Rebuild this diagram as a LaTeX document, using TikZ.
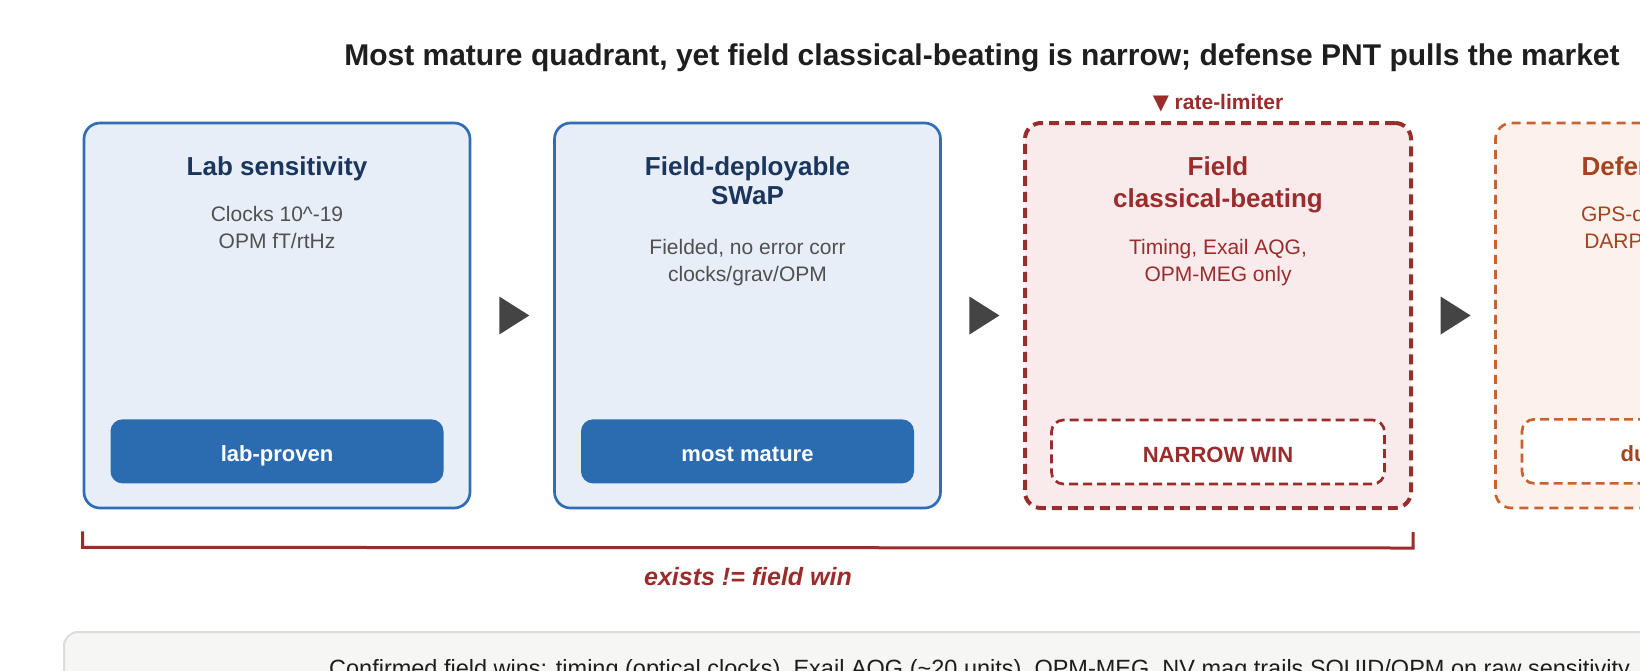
\documentclass[tikz,border=0pt]{standalone}
\usepackage{fontspec}
\setmainfont{Liberation Sans}
\newfontfamily\symfont{DejaVu Sans}
\usetikzlibrary{calc}
\definecolor{bfill}{HTML}{E7EEF7}
\definecolor{bborder}{HTML}{2F6EB5}
\definecolor{badgeblue}{HTML}{2B6CB0}
\definecolor{navy}{HTML}{1A365D}
\definecolor{bodygray}{HTML}{505050}
\definecolor{rfill}{HTML}{F9EBEB}
\definecolor{rborder}{HTML}{9B2C2C}
\definecolor{ofill}{HTML}{FDF1EC}
\definecolor{oborder}{HTML}{C8622F}
\definecolor{otext}{HTML}{A3431F}
\definecolor{arrowc}{HTML}{444444}
\definecolor{panelfill}{HTML}{F6F6F4}
\definecolor{panelborder}{HTML}{DCDCDC}
\definecolor{titlec}{HTML}{1E1E1E}
\tikzset{
  stage/.style={rectangle, rounded corners=16pt, minimum width=386pt, minimum height=385pt, inner sep=0pt},
  bluestage/.style={stage, draw=bborder, fill=bfill, line width=2.7pt},
  redstage/.style={stage, draw=rborder, fill=rfill, line width=4pt, dash pattern=on 10pt off 6pt},
  orgstage/.style={stage, draw=oborder, fill=ofill, line width=2.7pt, dash pattern=on 9pt off 6pt},
  badge/.style={rectangle, rounded corners=12pt, minimum width=333pt, minimum height=64pt, inner sep=0pt, text height=21pt, text depth=0pt, font=\fontsize{22}{26}\selectfont\bfseries},
  bluebadge/.style={badge, fill=badgeblue, text=white},
  redbadge/.style={badge, fill=white, draw=rborder, line width=2.7pt, dash pattern=on 9pt off 5pt, text=rborder},
  orgbadge/.style={badge, fill=white, draw=oborder, line width=2.7pt, dash pattern=on 9pt off 5pt, text=otext},
  stitle/.style={anchor=base, inner sep=0pt, font=\fontsize{26}{30}\selectfont\bfseries},
  sbody/.style={anchor=base, inner sep=0pt, font=\fontsize{21}{25}\selectfont},
  tri/.style={fill=arrowc},
}
\begin{document}
\begin{tikzpicture}[x=1pt,y=-1pt]
\useasboundingbox (0,0) rectangle (1640,670);
\fill[white] (0,0) rectangle (1640,670);

% headline
\node[anchor=base, inner sep=0pt, text=titlec, font=\fontsize{30}{34}\selectfont\bfseries] (head) at (982,65)
  {Most mature quadrant, yet field classical-beating is narrow; defense PNT pulls the market};

% stages
\node[bluestage] (b1) at (277,315.5) {};
\node[bluestage] (b2) at (747.5,315.5) {};
\node[redstage]  (b3) at (1218,315.5) {};
\node[orgstage]  (b4) at (1688.5,315.5) {};

% rate-limiter tag
\node[anchor=base, inner sep=0pt, text=rborder, font=\fontsize{21}{25}\selectfont\bfseries] (rl) at ($(b3.north)+(0,-12)$)
  {{\symfont\fontsize{21}{24}\selectfont ▼} rate-limiter};

% stage 1
\node[stitle, text=navy] (t1) at ($(b1.north)+(0,54)$) {Lab sensitivity};
\node[sbody, text=bodygray] (d1a) at ($(b1.north)+(0,100)$) {Clocks 10\textasciicircum-19};
\node[sbody, text=bodygray] (d1b) at ($(b1.north)+(0,127)$) {OPM fT/rtHz};
\node[bluebadge] (g1) at ($(b1.south)+(0,-58)$) {lab-proven};

% stage 2
\node[stitle, text=navy] (t2a) at ($(b2.north)+(0,54)$) {Field-deployable};
\node[stitle, text=navy] (t2b) at ($(b2.north)+(0,83)$) {SWaP};
\node[sbody, text=bodygray] (d2a) at ($(b2.north)+(0,133)$) {Fielded, no error corr};
\node[sbody, text=bodygray] (d2b) at ($(b2.north)+(0,160)$) {clocks/grav/OPM};
\node[bluebadge] (g2) at ($(b2.south)+(0,-58)$) {most mature};

% stage 3
\node[stitle, text=rborder] (t3a) at ($(b3.north)+(0,54)$) {Field};
\node[stitle, text=rborder] (t3b) at ($(b3.north)+(0,86)$) {classical-beating};
\node[sbody, text=rborder] (d3a) at ($(b3.north)+(0,133)$) {Timing, Exail AQG,};
\node[sbody, text=rborder] (d3b) at ($(b3.north)+(0,160)$) {OPM-MEG only};
\node[redbadge] (g3) at ($(b3.south)+(0,-58)$) {NARROW WIN};

% stage 4 (cut by the right edge, as in the reference)
\node[stitle, text=otext] (t4) at ($(b4.north)+(0,54)$) {Defense PNT pull};
\node[sbody, text=otext] (d4a) at ($(b4.north)+(0,100)$) {GPS-denied PNT need};
\node[sbody, text=otext] (d4b) at ($(b4.north)+(0,127)$) {DARPA RoQS funding};
\node[orgbadge] (g4) at ($(b4.south)+(0,-58)$) {dual-use pull};

% arrows between stages
\coordinate (m1) at ($(b1.east)!0.5!(b2.west)$);
\coordinate (m2) at ($(b2.east)!0.5!(b3.west)$);
\coordinate (m3) at ($(b3.east)!0.5!(b4.west)$);
\foreach \m in {m1,m2,m3}{
  \fill[tri] ($(\m)+(-13,-19)$) -- ($(\m)+(17,0)$) -- ($(\m)+(-13,19)$) -- cycle;
}

% bracket
\draw[rborder, line width=3pt]
  ($(b1.south west)+(0,22)$) -- ($(b1.south west)+(0,38)$) -- ($(b3.south east)+(0,38)$) -- ($(b3.south east)+(0,22)$);
\node[anchor=base, inner sep=0pt, text=rborder, font=\fontsize{25}{30}\selectfont\bfseries\itshape] (br) at (748,585) {exists != field win};

% note panel
\draw[fill=panelfill, draw=panelborder, line width=2pt, rounded corners=14pt] (64,632) rectangle (1900,820);
\node[anchor=base, inner sep=0pt, text=titlec, font=\fontsize{23.5}{28}\selectfont] (note) at (982,676)
  {Confirmed field wins: timing (optical clocks), Exail AQG (\textasciitilde 20 units), OPM-MEG. NV mag trails SQUID/OPM on raw sensitivity.};
\end{tikzpicture}
\end{document}
